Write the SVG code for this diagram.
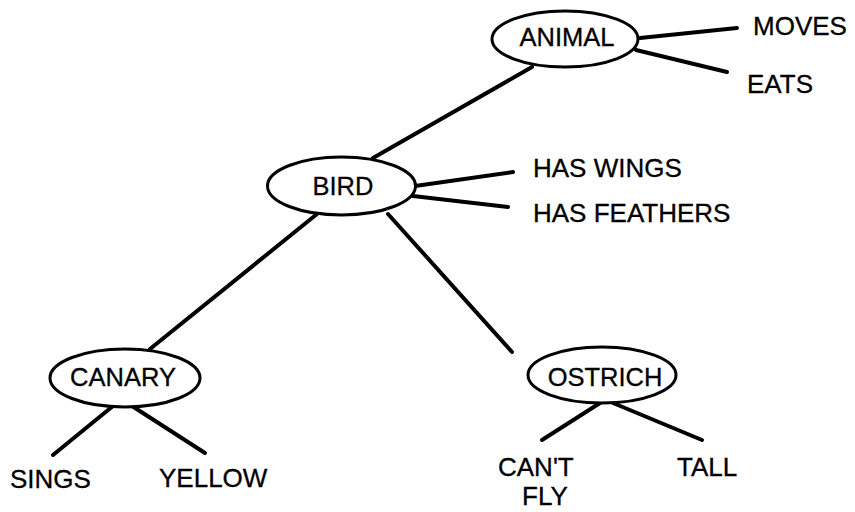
<svg xmlns="http://www.w3.org/2000/svg" width="855" height="512" viewBox="0 0 855 512">
  <style>
    .node ellipse { fill: #fff; stroke: #000; stroke-width: 3; }
    .edges line { stroke: #000; stroke-width: 4; stroke-linecap: round; }
    text { font-family: "Liberation Sans", Arial, sans-serif; font-size: 26px; fill: #000; stroke: #000; stroke-width: 0.3; }
    .node text { text-anchor: middle; font-size: 25.5px; }
  </style>
  <rect width="855" height="512" fill="#fff"/>

  <!-- connectors -->
  <g class="edges">
    <line x1="532" y1="67" x2="373" y2="158"/>
    <line x1="640" y1="38" x2="737" y2="28"/>
    <line x1="636" y1="50" x2="727" y2="72"/>
    <line x1="415" y1="186" x2="513" y2="172"/>
    <line x1="413" y1="196" x2="508" y2="207"/>
    <line x1="317" y1="214" x2="150" y2="349"/>
    <line x1="388" y1="214" x2="512" y2="352"/>
    <line x1="113" y1="406" x2="53" y2="455"/>
    <line x1="132" y1="406" x2="205" y2="453"/>
    <line x1="600" y1="403" x2="542" y2="440"/>
    <line x1="613" y1="403" x2="702" y2="440"/>
  </g>

  <!-- concept nodes -->
  <g id="animal" class="node">
    <ellipse cx="565" cy="39" rx="73" ry="28"/>
    <text x="567" y="46">ANIMAL</text>
  </g>
  <g id="bird" class="node">
    <ellipse cx="341.5" cy="186" rx="74" ry="29"/>
    <text x="343" y="195">BIRD</text>
  </g>
  <g id="canary" class="node">
    <ellipse cx="125" cy="378" rx="75" ry="29"/>
    <text x="123" y="386">CANARY</text>
  </g>
  <g id="ostrich" class="node">
    <ellipse cx="602" cy="375" rx="74" ry="28"/>
    <text x="605" y="386">OSTRICH</text>
  </g>

  <!-- property labels -->
  <g id="properties">
    <text x="753" y="35">MOVES</text>
    <text x="747" y="93">EATS</text>
    <text x="533" y="177">HAS WINGS</text>
    <text x="533" y="222">HAS FEATHERS</text>
    <text x="10" y="488">SINGS</text>
    <text x="159" y="487">YELLOW</text>
    <text x="498" y="476">CAN'T</text>
    <text x="522" y="505">FLY</text>
    <text x="677" y="476">TALL</text>
  </g>
</svg>
